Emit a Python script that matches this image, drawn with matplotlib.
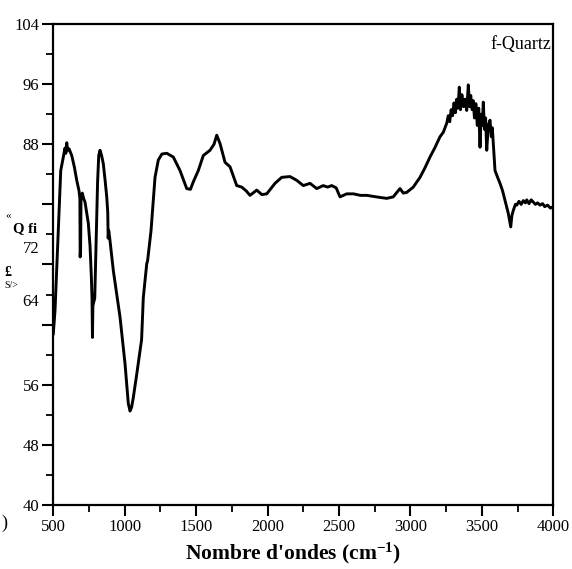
import numpy as np
import matplotlib
matplotlib.use('Agg')
from matplotlib import pyplot as plt
from matplotlib import transforms
from matplotlib.ticker import MultipleLocator, FixedLocator

plt.rcParams['font.family'] = ['Liberation Serif', 'DejaVu Serif']
plt.rcParams['mathtext.fontset'] = 'custom'
plt.rcParams['mathtext.rm'] = 'Liberation Serif'
plt.rcParams['mathtext.bf'] = 'Liberation Serif:bold'

# wavenumber (cm-1) and transmittance (%)
wavenumber = [500, 512, 535, 552, 570, 582, 588, 594, 600, 610, 629, 647, 664, 680,
              686, 688, 691, 694, 703, 712, 722, 745, 757, 766, 771, 774, 777, 783,
              790, 796, 804, 810, 818, 827, 838, 850, 862, 874, 881, 884, 888, 895,
              920, 967, 1002, 1025, 1037, 1048, 1060, 1084, 1107, 1118, 1130, 1154,
              1160, 1184, 1212, 1235, 1260, 1294, 1340, 1387, 1434, 1460, 1480, 1515,
              1550, 1597, 1625, 1644, 1667, 1702, 1737, 1784, 1819, 1850, 1877, 1924,
              1960, 1994, 2052, 2099, 2157, 2204, 2250, 2297, 2344, 2389, 2420, 2449,
              2480, 2507, 2554, 2601, 2650, 2694, 2760, 2834, 2880, 2905, 2927, 2950,
              2974, 3000, 3020, 3067, 3100, 3137, 3170, 3207, 3230, 3254, 3265, 3275,
              3285, 3295, 3305, 3315, 3324, 3333, 3342, 3350, 3360, 3372, 3382, 3394,
              3405, 3414, 3422, 3432, 3440, 3448, 3458, 3468, 3478, 3487, 3495, 3503,
              3510, 3518, 3526, 3534, 3545, 3557, 3566, 3573, 3580, 3592, 3610, 3627,
              3645, 3662, 3685, 3702, 3710, 3720, 3735, 3744, 3760, 3775, 3790, 3805,
              3814, 3830, 3845, 3860, 3875, 3890, 3907, 3925, 3940, 3960, 3980, 4000]
transmittance = [62.8, 65.9, 76.5, 84.5, 86.3, 87.5, 86.8, 88.2, 87.2, 87.4, 86.5, 85.0, 83.2, 81.8,
                 80.8, 73.0, 74.0, 81.0, 81.5, 80.8, 80.3, 77.5, 74.5, 70.5, 67.5, 62.3, 66.5, 67.0,
                 67.5, 72.0, 77.5, 83.0, 86.5, 87.2, 86.5, 85.4, 83.3, 81.0, 79.0, 75.5, 76.5, 75.5,
                 71.2, 65.0, 58.8, 53.5, 52.5, 53.0, 54.3, 57.4, 60.5, 62.0, 67.6, 72.1,
                 72.5, 76.5, 83.6, 85.9, 86.7, 86.8, 86.3, 84.5, 82.1, 82.0, 83.0, 84.5,
                 86.5, 87.2, 88.0, 89.2, 88.1, 85.6, 85.0, 82.5, 82.3, 81.8, 81.2, 81.9,
                 81.3, 81.4, 82.8, 83.6, 83.7, 83.2, 82.5, 82.8, 82.1, 82.5, 82.3, 82.5,
                 82.2, 81.0, 81.4, 81.4, 81.2, 81.2, 81.0, 80.8, 81.0, 81.6, 82.1, 81.5,
                 81.6, 82.0, 82.3, 83.6, 84.8, 86.3, 87.5, 89.0, 89.6, 90.8, 91.8, 91.0,
                 92.6, 91.8, 93.5, 92.2, 94.0, 92.8, 95.6, 92.6, 94.6, 93.0, 94.0, 92.5,
                 95.9, 93.0, 94.5, 92.6, 93.8, 91.5, 93.4, 90.5, 92.8, 87.6, 92.0, 90.5,
                 93.6, 90.0, 91.5, 87.2, 90.5, 91.2, 89.0, 90.2, 88.1, 84.5, 83.6, 82.8,
                 81.8, 80.5, 78.8, 77.0, 78.5, 79.2, 80.0, 79.9, 80.4, 80.0, 80.5, 80.2,
                 80.6, 80.1, 80.6, 80.3, 80.0, 80.2, 79.9, 80.1, 79.7, 79.9, 79.5, 79.7]

y_major = [40, 48, 56, 64, 72, 80, 88, 96, 104]
y_labels = ['40', '48', '56', '64', '72', '', '88', '96', '104']
x_major = [500, 1000, 1500, 2000, 2500, 3000, 3500, 4000]

fig = plt.figure(figsize=(5.72, 5.69), dpi=100)
ax = fig.add_axes([0.0932, 0.1125, 0.8741, 0.8453])
ax.plot(wavenumber, transmittance, color='black', lw=2.1, solid_joinstyle='round')

ax.set_xlim(500, 4000)
ax.set_ylim(40, 104)
ax.xaxis.set_major_locator(FixedLocator(x_major))
ax.xaxis.set_minor_locator(MultipleLocator(250))
ax.yaxis.set_major_locator(FixedLocator(y_major))
ax.yaxis.set_minor_locator(MultipleLocator(4))
ax.set_yticklabels(y_labels)
ax.tick_params(which='major', direction='out', length=8, width=1.5, labelsize=12, pad=2,
               top=False, right=False)
ax.tick_params(which='minor', direction='out', length=5, width=1.3, top=False, right=False)
for s in ax.spines.values():
    s.set_linewidth(1.6)

# the 72 and 64 labels sit a little above their ticks in the original
for lab in ax.get_yticklabels():
    if lab.get_text() == '72':
        lab.set_transform(lab.get_transform() + transforms.ScaledTranslation(0, 0.17, fig.dpi_scale_trans))
    if lab.get_text() == '64':
        lab.set_transform(lab.get_transform() + transforms.ScaledTranslation(0, 0.25, fig.dpi_scale_trans))

ax.set_xlabel(r"Nombre d'ondes (cm$\mathbf{^{-1}}$)", fontsize=15.5, fontweight='bold', labelpad=2)
ax.xaxis.set_label_coords(0.48, -0.075)

fig.text(551 / 572, 1 - 44 / 569, 'f-Quartz', fontsize=13, ha='right', va='center')

# scrambled y-axis label fragments
fig.text(8 / 572, 1 - 215 / 569, '\u00ab', fontsize=8, ha='center', va='center')
fig.text(25 / 572, 1 - 229 / 569, 'Q fi', fontsize=10.5, fontweight='bold', ha='center', va='center')
fig.text(8 / 572, 1 - 272 / 569, '\u00a3', fontsize=10, fontweight='bold', ha='center', va='center')
fig.text(11 / 572, 1 - 285 / 569, 'S/>', fontsize=7, ha='center', va='center')
fig.text(1 / 572, 1 - 523 / 569, ')', fontsize=13, ha='left', va='center')

fig.savefig('out.png', dpi=100)
